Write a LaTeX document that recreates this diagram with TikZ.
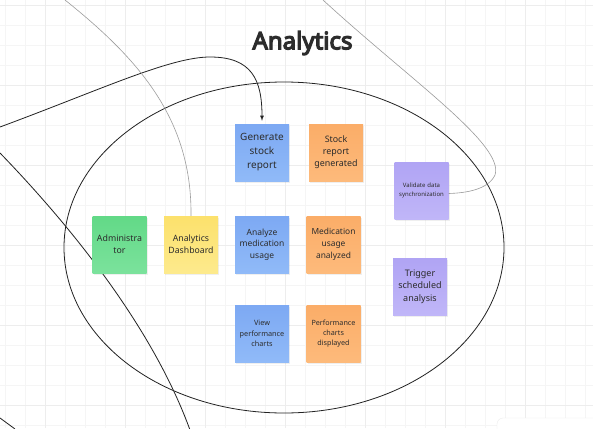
\documentclass[tikz,border=0pt]{standalone}
\usepackage{fontspec}
\setmainfont{Noto Sans}
\newfontfamily\titlefont{Noto Sans}[FakeBold=5]
\usepackage{tikz}
\usetikzlibrary{shadows}

\definecolor{gridminor}{HTML}{F5F5F5}
\definecolor{gridmajor}{HTML}{EDEDED}
\definecolor{inktext}{HTML}{2C2C2C}
\definecolor{inkline}{HTML}{222222}
\definecolor{linkgray}{HTML}{9C9C9C}
\definecolor{bluetop}{HTML}{7DA9F3}
\definecolor{bluebot}{HTML}{90BAF8}
\definecolor{orangetop}{HTML}{FBAD68}
\definecolor{orangebot}{HTML}{FDBA7B}
\definecolor{greentop}{HTML}{62D987}
\definecolor{greenbot}{HTML}{7BE29C}
\definecolor{yellowtop}{HTML}{FCE16C}
\definecolor{yellowbot}{HTML}{FDEA8D}
\definecolor{purpletop}{HTML}{B0A4F4}
\definecolor{purplebot}{HTML}{C0B6F8}

\newcommand{\notesize}[2]{\fontsize{#1}{#2}\selectfont}

\tikzset{
    note/.style={rectangle,minimum width=54pt,minimum height=57pt,inner sep=0pt,
        text width=52pt,align=center,text=inktext,
        drop shadow={opacity=0.12,shadow xshift=1pt,shadow yshift=-1.5pt}},
    bluenote/.style={note,top color=bluetop,bottom color=bluebot},
    orangenote/.style={note,top color=orangetop,bottom color=orangebot},
    greennote/.style={note,top color=greentop,bottom color=greenbot},
    yellownote/.style={note,top color=yellowtop,bottom color=yellowbot},
    purplenote/.style={note,top color=purpletop,bottom color=purplebot},
    link/.style={draw=linkgray,line width=0.6pt},
    pen/.style={draw=inkline,line width=0.8pt}
}

\begin{document}
\begin{tikzpicture}[>=latex,x=1pt,y=-1pt]
    \useasboundingbox (0,0) rectangle (593,428);
    \clip (0,0) rectangle (593,428);
    \fill[white] (0,0) rectangle (593,428);
    % background grid
    \foreach \x in {5,25,...,585}
    {
        \draw[gridminor,line width=0.6pt] (\x,0) -- (\x,428);
    }
    \foreach \y in {5,25,...,425}
    {
        \draw[gridminor,line width=0.6pt] (0,\y) -- (593,\y);
    }
    \foreach \x in {45,125,...,525}
    {
        \draw[gridmajor,line width=0.8pt] (\x,0) -- (\x,428);
    }
    \foreach \y in {5,85,...,405}
    {
        \draw[gridmajor,line width=0.8pt] (0,\y) -- (593,\y);
    }

    \node[font=\titlefont\notesize{24}{28},text=inktext,anchor=base] (title) at (302.5,49.3) {Analytics};

    % free ends of the strokes
    \coordinate (arrowstart) at (0,127);
    \coordinate (slashtop) at (0,153);
    \coordinate (slashbottom) at (190,430);
    \coordinate (cornertop) at (0,418);
    \coordinate (cornerbottom) at (15,429);
    \coordinate (dashlinktop) at (65,0);
    \coordinate (validlinktop) at (323,0);

    \draw[pen] (284,247.5) ellipse [x radius=220pt,y radius=165.5pt];
    \draw[pen] (slashtop) .. controls (60,215) and (150,320) .. (slashbottom);
    \draw[pen] (cornertop) -- (cornerbottom);

    \node[bluenote,font=\notesize{10}{14}] (genreport) at (262,152.5) {Generate\\stock\\report};
    \node[orangenote,font=\notesize{8.9}{12}] (reportdone) at (336,152.5) {Stock\\report\\generated};
    \node[purplenote,font=\notesize{6}{8.3}] (validate) at (421.5,190.5) {Validate data\\synchronization};
    \node[greennote,font=\notesize{8.8}{12.3}] (admin) at (119.5,244.5) {Administra\\tor};
    \node[yellownote,font=\notesize{8.7}{12}] (dashboard) at (191,244.5) {Analytics\\Dashboard};
    \node[bluenote,font=\notesize{8.5}{11.7}] (analyze) at (262,244.5) {Analyze\\medication\\usage};
    \node[orangenote,font=\notesize{8.4}{11.8}] (usagedone) at (333.5,244.5) {Medication\\usage\\analyzed};
    \node[purplenote,font=\notesize{9}{12.5}] (trigger) at (420,286.5) {Trigger\\scheduled\\analysis};
    \node[bluenote,font=\notesize{7.3}{10.2}] (viewcharts) at (262,333.5) {View\\performance\\charts};
    \node[orangenote,font=\notesize{7.2}{10}] (chartsdone) at (333.5,333.5) {Performance\\charts\\displayed};

    \draw[pen,->] (arrowstart) .. controls (100,90) and (170,57) .. (210,57)
        .. controls (252,57) and (262,80) .. ([yshift=3pt]genreport.north);
    \draw[link] (dashlinktop) .. controls (140,60) and (192,120) .. (dashboard.north);
    \draw[link] (validlinktop) .. controls (410,80) and (505,145) .. (495,175)
        .. controls (488,190) and (465,193) .. ([yshift=-3pt]validate.east);

    % panel in the lower right corner
    \draw[draw=gridmajor,fill=white,rounded corners=6pt] (497,418) rectangle (610,445);
\end{tikzpicture}
\end{document}
